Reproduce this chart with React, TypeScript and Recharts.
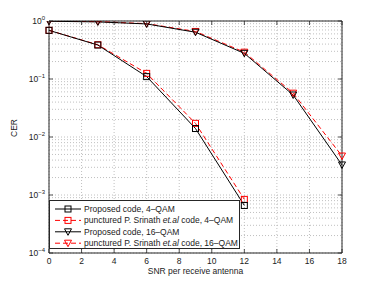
import React from 'react';
import { LineChart, Line, XAxis, YAxis, ReferenceLine, CartesianGrid } from 'recharts';

const snr = [0, 3, 6, 9, 12, 15, 18];
const proposed4 = [0.69, 0.385, 0.11, 0.014, 0.00066];
const srinath4 = [0.69, 0.39, 0.125, 0.0172, 0.00084];
const proposed16 = [0.99, 0.965, 0.89, 0.64, 0.277, 0.053, 0.0033];
const srinath16 = [0.995, 0.975, 0.9, 0.66, 0.29, 0.057, 0.0047];

const xTicks = [0, 2, 4, 6, 8, 10, 12, 14, 16, 18];
const yDecades = [0.0001, 0.001, 0.01, 0.1, 1];
const yExponents = ['\u22124', '\u22123', '\u22122', '\u22121', '0'];
const minorMultipliers = [2, 3, 4, 5, 6, 7, 8, 9];

const seriesNames = [
  'Proposed code, 4\u2013QAM',
  'punctured P. Srinath ',
  'Proposed code, 16\u2013QAM',
  'punctured P. Srinath ',
];

const data = snr.map((s, i) => ({
  snr: s,
  p4: proposed4[i],
  s4: srinath4[i],
  p16: proposed16[i],
  s16: srinath16[i],
}));

const minorValues: number[] = [];
yDecades.slice(0, 4).forEach((d) => minorMultipliers.forEach((m) => minorValues.push(d * m)));

const FONT = 'Liberation Sans, Arial, Helvetica, sans-serif';
const AXIS = '#262626';
const PLOT_W = 293;
const PLOT_H = 232;

const SquareDot = (props: any) => {
  const { cx, cy, stroke } = props;
  if (cx == null || cy == null) return null;
  return <rect x={cx - 3} y={cy - 3} width={6} height={6} fill="none" stroke={stroke} strokeWidth={1} />;
};

const TriDot = (props: any) => {
  const { cx, cy, stroke } = props;
  if (cx == null || cy == null) return null;
  return (
    <polygon
      points={`${cx - 3.5},${cy - 3} ${cx + 3.5},${cy - 3} ${cx},${cy + 3.5}`}
      fill="none"
      stroke={stroke}
      strokeWidth={1}
    />
  );
};

const YTick = (props: any) => {
  const { x, y, payload } = props;
  const idx = yDecades.indexOf(payload.value);
  const exp = yExponents[idx] ?? '';
  return (
    <g>
      <line x1={x} y1={y} x2={x + 4} y2={y} stroke={AXIS} strokeWidth={0.8} />
      <line x1={x + PLOT_W - 4} y1={y} x2={x + PLOT_W} y2={y} stroke={AXIS} strokeWidth={0.8} />
      <text x={x - 4} y={y + 3} textAnchor="end" fontFamily={FONT} fontSize={8.5} fill="#222">
        10
        <tspan dy={-4} fontSize={6}>{exp}</tspan>
      </text>
    </g>
  );
};

const XTick = (props: any) => {
  const { x, y, payload } = props;
  return (
    <g>
      <line x1={x} y1={y} x2={x} y2={y - 4} stroke={AXIS} strokeWidth={0.8} />
      <line x1={x} y1={y - PLOT_H} x2={x} y2={y - PLOT_H + 4} stroke={AXIS} strokeWidth={0.8} />
      <text x={x} y={y + 11} textAnchor="middle" fontFamily={FONT} fontSize={8.5} fill="#222">
        {payload.value}
      </text>
    </g>
  );
};

const Legend = () => {
  const rows = [
    { name: seriesNames[0], italic: '', tail: '', color: '#000', dash: undefined, shape: 'sq' },
    { name: seriesNames[1], italic: 'et.al', tail: ' code, 4\u2013QAM', color: '#ff0000', dash: '5 3', shape: 'sq' },
    { name: seriesNames[2], italic: '', tail: '', color: '#000', dash: undefined, shape: 'tri' },
    { name: seriesNames[3], italic: 'et.al', tail: ' code, 16\u2013QAM', color: '#ff0000', dash: '5 3', shape: 'tri' },
  ];
  return (
    <svg width={379} height={285} style={{ position: 'absolute', left: 0, top: 0, pointerEvents: 'none' }}>
      <rect x={49.5} y={200.5} width={190} height={48} fill="#fff" stroke={AXIS} strokeWidth={1} />
      {rows.map((r, i) => {
        const cy = 209 + i * 11.4;
        return (
          <g key={i}>
            <line x1={55} y1={cy} x2={81} y2={cy} stroke={r.color} strokeWidth={1} strokeDasharray={r.dash} />
            {r.shape === 'sq' ? (
              <SquareDot cx={68} cy={cy} stroke={r.color} />
            ) : (
              <TriDot cx={68} cy={cy} stroke={r.color} />
            )}
            <text x={84} y={cy + 3} fontFamily={FONT} fontSize={8.5} fill="#222">
              {r.name}
              {r.italic ? <tspan fontStyle="italic">{r.italic}</tspan> : null}
              {r.tail}
            </text>
          </g>
        );
      })}
    </svg>
  );
};

export default function App() {
  return (
    <div style={{ position: 'absolute', left: 0, top: 0, width: 379, height: 285, background: '#fff' }}>
      <LineChart width={379} height={285} data={data} margin={{ top: 21, right: 37, bottom: 0, left: 0 }}>
        <CartesianGrid stroke="#b0b0b0" strokeDasharray="1 2" strokeWidth={0.8} />
        {minorValues.map((v) => (
          <ReferenceLine key={v} y={v} stroke="#b0b0b0" strokeDasharray="1 2" strokeWidth={0.8} />
        ))}
        <XAxis
          dataKey="snr"
          type="number"
          domain={[0, 18]}
          ticks={xTicks}
          height={32}
          tickSize={0}
          tickMargin={0}
          tick={<XTick />}
          stroke={AXIS}
          interval={0}
          label={{ value: 'SNR per receive antenna', position: 'insideBottom', offset: 11, fontSize: 8.5, fontFamily: FONT, fill: '#222' }}
        />
        <YAxis
          type="number"
          scale="log"
          domain={[0.0001, 1]}
          allowDataOverflow
          ticks={yDecades}
          width={49}
          tickSize={0}
          tickMargin={0}
          tick={<YTick />}
          stroke={AXIS}
          interval={0}
          label={{ value: 'CER', angle: -90, position: 'insideLeft', offset: 14, fontSize: 8.5, fontFamily: FONT, fill: '#222' }}
        />
        <ReferenceLine y={1} stroke={AXIS} strokeWidth={1} />
        <ReferenceLine x={18} stroke={AXIS} strokeWidth={1} />
        <Line dataKey="s4" stroke="#ff0000" strokeDasharray="5 3" strokeWidth={1} dot={<SquareDot stroke="#ff0000" />} isAnimationActive={false} />
        <Line dataKey="p4" stroke="#000" strokeWidth={1} dot={<SquareDot stroke="#000" />} isAnimationActive={false} />
        <Line dataKey="s16" stroke="#ff0000" strokeDasharray="5 3" strokeWidth={1} dot={<TriDot stroke="#ff0000" />} isAnimationActive={false} />
        <Line dataKey="p16" stroke="#000" strokeWidth={1} dot={<TriDot stroke="#000" />} isAnimationActive={false} />
      </LineChart>
      <Legend />
    </div>
  );
}
